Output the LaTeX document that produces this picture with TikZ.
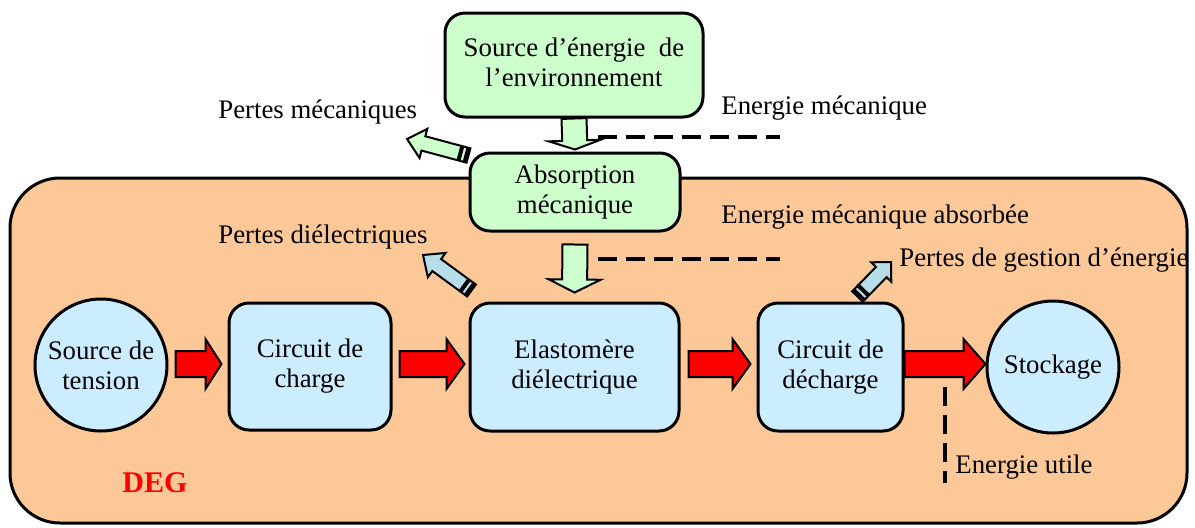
\documentclass[tikz,border=0pt]{standalone}
\usepackage{fontspec}
\setmainfont{Liberation Serif}
\usetikzlibrary{calc}
\definecolor{boxgreen}{HTML}{CCFFCC}
\definecolor{boxblue}{HTML}{CCECFF}
\definecolor{peach}{HTML}{FCC897}
\definecolor{lossblue}{HTML}{B7DEE8}
\newcommand\blockarrow[6]{% #1 style, #2 tail, #3 tip, #4 shaft half, #5 head half, #6 head length
  \coordinate (ba-h) at ($(#3)!#6!(#2)$);
  \draw[#1] ($(#2)!#4!90:(#3)$) -- ($(ba-h)!#4!90:(#3)$) -- ($(ba-h)!#5!90:(#3)$) -- (#3)
    -- ($(ba-h)!#5!-90:(#3)$) -- ($(ba-h)!#4!-90:(#3)$) -- ($(#2)!#4!-90:(#3)$) -- cycle;}
\newcommand\losstail[3]{% #1 tail, #2 tip, #3 shaft half
  \coordinate (lt-a) at ($(#1)!2pt!(#2)$);
  \coordinate (lt-b) at ($(#1)!3.2pt!(#2)$);
  \coordinate (lt-c) at ($(#1)!5.2pt!(#2)$);
  \fill ($(#1)!#3!90:(#2)$) -- ($(lt-a)!#3!90:(#2)$) -- ($(lt-a)!#3!-90:(#2)$) -- ($(#1)!#3!-90:(#2)$) -- cycle;
  \fill ($(lt-b)!#3!90:(#2)$) -- ($(lt-c)!#3!90:(#2)$) -- ($(lt-c)!#3!-90:(#2)$) -- ($(lt-b)!#3!-90:(#2)$) -- cycle;}
\begin{document}
\begin{tikzpicture}[x=0.5pt,y=-0.5pt,font=\fontsize{13.4}{15}\selectfont,
  box/.style={draw, line width=1.5pt, rounded corners=10pt, align=center, inner sep=0pt},
  greenbox/.style={box, fill=boxgreen},
  bluebox/.style={box, fill=boxblue},
  circ/.style={circle, draw, line width=1.5pt, fill=boxblue, align=center, inner sep=0pt, minimum size=66pt},
  lbl/.style={anchor=base west, inner sep=0pt},
  redarrow/.style={draw, line width=1pt, fill=red},
  greenarrow/.style={draw, line width=1pt, fill=boxgreen},
  lossarrow/.style={draw, line width=1pt},
  energyline/.style={line width=2pt, dash pattern=on 9.5pt off 4.5pt}]
\useasboundingbox (0,0) rectangle (1195,527);

% DEG frame
\node[draw, line width=1.5pt, fill=peach, rounded corners=25pt, minimum width=588.5pt, minimum height=172.5pt, inner sep=0pt] (deg) at (598.5,350.5) {};
\node[lbl, font=\fontsize{15}{18}\selectfont\bfseries, text=red] (deglbl) at (122,492) {DEG};

% boxes
\node[greenbox, minimum width=129pt, minimum height=52pt] (env) at (574,65) {\raisebox{2.5pt}{\begin{tabular}{@{}c@{}}Source d’énergie\ \ de\\l’environnement\end{tabular}}};
\node[greenbox, minimum width=105pt, minimum height=39pt] (abs) at (575,192) {\raisebox{2.2pt}{\begin{tabular}{@{}c@{}}Absorption\\mécanique\end{tabular}}};
\node[circ] (src) at (101,365) {Source de\\tension};
\node[bluebox, minimum width=81pt, minimum height=63.5pt] (chg) at (310,366.5) {Circuit de\\charge};
\node[bluebox, minimum width=104.5pt, minimum height=64pt] (ela) at (574.5,367) {Elastomère\\diélectrique};
\node[bluebox, minimum width=72.5pt, minimum height=64pt] (dch) at (830.5,367) {Circuit de\\décharge};
\node[circ] (sto) at (1053,367) {Stockage};

% labels
\node[lbl] (lpm) at (218,118) {Pertes mécaniques};
\node[lbl] (lpd) at (218,243) {Pertes diélectriques};
\node[lbl] (lem) at (721,114) {Energie mécanique};
\node[lbl] (lema) at (721,223) {Energie mécanique absorbée};
\node[lbl] (lpg) at (899,266) {Pertes de gestion d’énergie};
\node[lbl] (leu) at (955,473) {Energie utile};

% red flow arrows
\coordinate (r1a) at ($(src.east)+(7,-1)$);
\coordinate (r1b) at ($(chg.west)+(-6,-2.5)$);
\coordinate (r2a) at ($(chg.east)+(7,-2.5)$);
\coordinate (r2b) at ($(ela.west)+(-4,-3)$);
\coordinate (r3a) at ($(ela.east)+(8,-3)$);
\coordinate (r3b) at ($(dch.west)+(-6,-3)$);
\coordinate (r4a) at ($(dch.east)+(0,-3)$);
\coordinate (r4b) at ($(sto.west)+(0,-3)$);
\blockarrow{redarrow}{r1a}{r1b}{6.5pt}{12.5pt}{8pt}
\blockarrow{redarrow}{r2a}{r2b}{6.5pt}{12.5pt}{9pt}
\blockarrow{redarrow}{r3a}{r3b}{6.5pt}{12.5pt}{9pt}
\blockarrow{redarrow}{r4a}{r4b}{6.5pt}{12.5pt}{11pt}

% green mechanical arrows
\coordinate (g1a) at (env.south);
\coordinate (g1b) at ($(abs.north)+(0,-2)$);
\coordinate (g2a) at ($(abs.south)+(0,12)$);
\coordinate (g2b) at ($(ela.north)+(0,-9)$);
\blockarrow{greenarrow}{g1a}{g1b}{6.25pt}{13pt}{4.5pt}
\blockarrow{greenarrow}{g2a}{g2b}{6.25pt}{13pt}{6.5pt}

% dashed energy lines
\coordinate (d1a) at (598,137);
\coordinate (d1b) at (780,137);
\coordinate (d2a) at (598,259);
\coordinate (d2b) at (780,259);
\coordinate (d3a) at (945,387);
\coordinate (d3b) at (945,483);
\draw[energyline] (d1a) -- (d1b);
\draw[energyline] (d2a) -- (d2b);
\draw[energyline] (d3a) -- (d3b);

% loss arrows
\coordinate (l1a) at ($(abs.north west)+(0,4)$);
\coordinate (l1b) at (407,139);
\coordinate (l2a) at ($(ela.north west)+(3,-11)$);
\coordinate (l2b) at (423,255);
\coordinate (l3a) at ($(dch.north)+(27,-5)$);
\coordinate (l3b) at (891,262);
\blockarrow{lossarrow, fill=boxgreen}{l1a}{l1b}{3.7pt}{7.5pt}{8.5pt}
\losstail{l1a}{l1b}{3.7pt}
\blockarrow{lossarrow, fill=lossblue}{l2a}{l2b}{3.7pt}{7.5pt}{8.5pt}
\losstail{l2a}{l2b}{3.7pt}
\blockarrow{lossarrow, fill=lossblue}{l3a}{l3b}{3.7pt}{7pt}{7pt}
\losstail{l3a}{l3b}{3.7pt}
\end{tikzpicture}
\end{document}
